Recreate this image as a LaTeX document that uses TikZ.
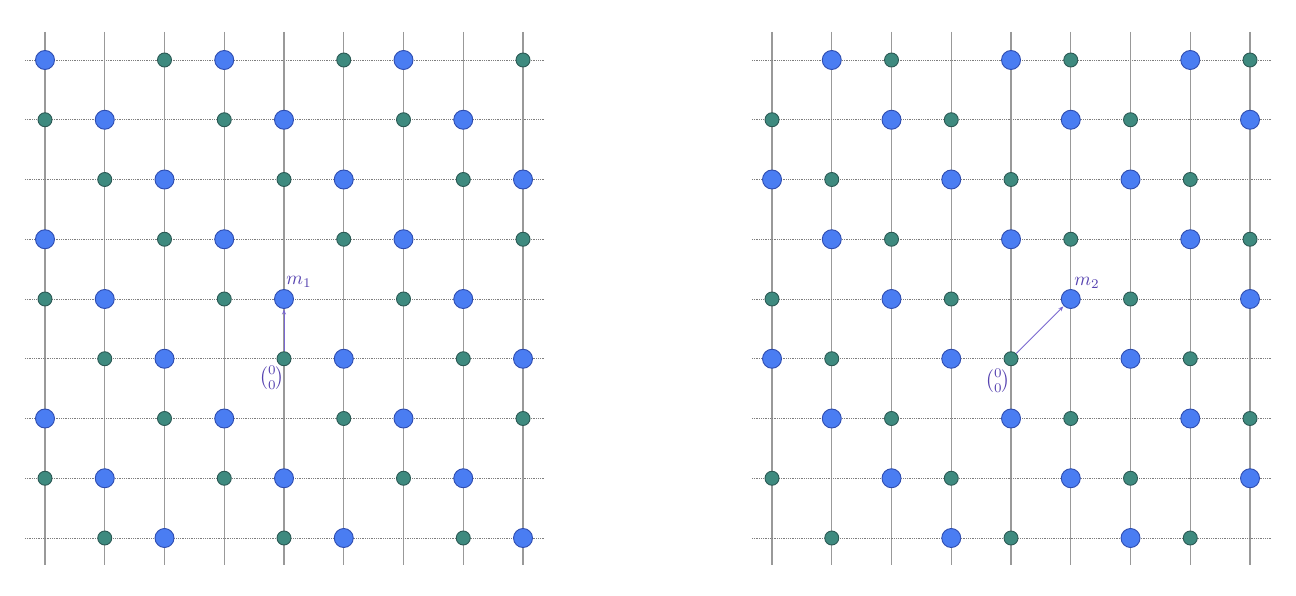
\documentclass[tikz,border=0pt]{standalone}
\usepackage{amsmath}
\usetikzlibrary{arrows.meta}
\definecolor{bigfill}{HTML}{4A7DF2}
\definecolor{bigdraw}{HTML}{2F4DB0}
\definecolor{smallfill}{HTML}{3E8A7F}
\definecolor{smalldraw}{HTML}{2C5A55}
\definecolor{vline}{HTML}{999999}
\definecolor{hline}{HTML}{7E7E7E}
\definecolor{vecc}{HTML}{7A68D0}
\definecolor{labc}{HTML}{5542B0}
\newcommand{\biglab}[1]{\scalebox{1.9}{#1}}
\tikzset{
  bigdot/.style={circle,inner sep=0pt,minimum size=19pt,fill=bigfill,draw=bigdraw,line width=0.9pt},
  smalldot/.style={circle,inner sep=0pt,minimum size=14pt,fill=smallfill,draw=smalldraw,line width=0.9pt},
  vgrid/.style={draw=vline,line width=1.3pt},
  hgrid/.style={draw=hline,line width=0.7pt,dash pattern=on 1pt off 0.8pt},
  vecarrow/.style={draw=vecc,line width=0.9pt,-{Stealth[length=5pt,width=4pt]},shorten <=0pt,shorten >=0.5pt},
  lab/.style={text=labc,inner sep=0pt}
}
\begin{document}
\begin{tikzpicture}[x=1pt,y=-1pt]
\useasboundingbox[fill=white] (0,0) rectangle (1296,596);
% grids
\foreach \ox/\nm in {45/L,772/R}{
  \foreach \k in {0,...,8}{
    \pgfmathsetmacro{\xx}{\ox+59.75*\k}
    \pgfmathsetmacro{\yy}{60+59.75*\k}
    \draw[vgrid] (\xx,32) -- (\xx,565);
    \draw[hgrid] (\ox-20,\yy) -- (\ox+500,\yy);
  }
}
% left dots
\foreach \c in {0,...,8}{
  \foreach \r in {0,...,8}{
    \pgfmathtruncatemacro{\kk}{mod(\c-\r+31,3)}
    \pgfmathsetmacro{\xx}{45+59.75*\c}
    \pgfmathsetmacro{\yy}{60+59.75*\r}
    \ifnum\kk=0
      \node[smalldot] (L-\c-\r) at (\xx,\yy) {};
    \fi
    \ifnum\kk=1
      \node[bigdot] (L-\c-\r) at (\xx,\yy) {};
    \fi
  }
}
% right dots
\foreach \c in {0,...,8}{
  \foreach \r in {0,...,8}{
    \pgfmathtruncatemacro{\kk}{mod(\c-\r+31,3)}
    \pgfmathtruncatemacro{\skip}{(\c==0)&&(\r==8)}
    \pgfmathsetmacro{\xx}{772+59.75*\c}
    \pgfmathsetmacro{\yy}{60+59.75*\r}
    \ifnum\skip=0
      \ifnum\kk=0
        \node[smalldot] (R-\c-\r) at (\xx,\yy) {};
      \fi
      \ifnum\kk=2
        \node[bigdot] (R-\c-\r) at (\xx,\yy) {};
      \fi
    \fi
  }
}
% vectors
\draw[vecarrow] (L-4-5) -- (L-4-4);
\draw[vecarrow] (R-4-5) -- (R-5-4);
% labels
\node[lab] (m1) at (299,282) {\biglab{$m_1$}};
\node[lab] (o1) at (272,378) {\biglab{$\binom{0}{0}$}};
\node[lab] (m2) at (1087,283) {\biglab{$m_2$}};
\node[lab] (o2) at (998,381) {\biglab{$\binom{0}{0}$}};
\end{tikzpicture}
\end{document}
